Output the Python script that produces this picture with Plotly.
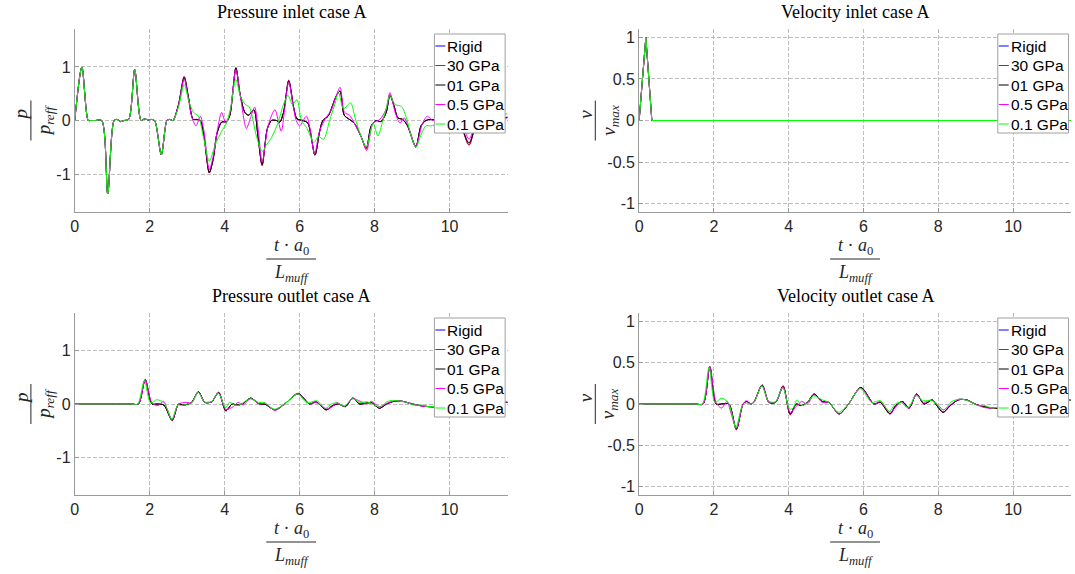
import plotly.graph_objects as go

W, H = 1075, 574

# ---------------- data ----------------
NAMES = ["Rigid", "30 GPa", "01 GPa", "0.5 GPa", "0.1 GPa"]
TITLES = ["Pressure inlet case A", "Velocity inlet case A",
          "Pressure outlet case A", "Velocity outlet case A"]
X_TICKS = [0, 2, 4, 6, 8, 10]
X_TICKTEXT = ["0", "2", "4", "6", "8", "10"]
P_TICKS = [-1, 0, 1]
P_TICKTEXT = ["-1", "0", "1"]
V_TICKS = [-1, -0.5, 0, 0.5, 1]
V_TICKTEXT = ["-1", "-0.5", "0", "0.5", "1"]

# Pressure inlet (t*a0/L, p/pref)
PI_COMMON = [(0.0, 0.0), (0.19, 1.0), (0.36, 0.0), (0.42, 0.0), (0.55, 0.0), (0.72, 0.0),
             (0.88, -1.37), (1.05, 0.0), (1.13, 0.02), (1.22, -0.02), (1.32, 0.0),
             (1.44, 0.02), (1.6, 0.95), (1.77, 0.0), (1.86, 0.03), (1.96, 0.01),
             (2.03, 0.02), (2.13, 0.0), (2.31, -0.64), (2.46, 0.0), (2.53, 0.02), (2.62, 0.0)]
PI_BLACK = PI_COMMON + [
    (2.77, 0.3), (2.92, 0.8), (3.03, 0.45), (3.16, 0.02), (3.25, 0.02), (3.35, 0.0),
    (3.45, -0.3), (3.59, -0.97), (3.7, -0.7), (3.79, -0.26), (3.92, -0.03), (4.05, -0.02),
    (4.14, 0.1), (4.30, 0.99), (4.41, 0.5), (4.54, 0.15), (4.64, 0.1), (4.78, 0.2),
    (4.89, -0.3), (5.0, -0.82), (5.14, -0.15), (5.25, 0.0), (5.38, 0.0), (5.47, -0.03),
    (5.57, 0.15), (5.71, 0.74), (5.84, 0.25), (5.93, 0.03), (6.09, 0.0), (6.22, -0.05),
    (6.41, -0.64), (6.53, -0.22), (6.62, 0.0), (6.76, 0.08), (6.89, 0.3), (6.97, 0.45),
    (7.08, 0.55), (7.19, 0.1), (7.33, 0.02), (7.46, -0.05), (7.64, -0.3), (7.78, -0.51),
    (7.91, -0.1), (8.04, 0.0), (8.17, -0.02), (8.31, 0.15), (8.41, 0.47), (8.53, 0.25),
    (8.62, 0.05), (8.75, 0.02), (8.88, -0.1), (9.10, -0.48), (9.24, -0.1), (9.37, 0.0),
    (9.5, 0.02), (9.7, 0.0), (9.9, 0.05), (10.1, 0.02), (10.3, -0.1), (10.52, -0.42),
    (10.7, -0.1), (10.9, 0.05), (11.1, 0.0), (11.3, 0.04), (11.55, 0.06)]
PI_RED = PI_COMMON + [
    (2.77, 0.3), (2.92, 0.82), (3.03, 0.45), (3.16, 0.02), (3.25, 0.02), (3.35, 0.0),
    (3.45, -0.3), (3.59, -0.98), (3.7, -0.7), (3.79, -0.26), (3.92, -0.03), (4.05, -0.02),
    (4.14, 0.1), (4.30, 0.98), (4.41, 0.5), (4.54, 0.15), (4.64, 0.1), (4.78, 0.2),
    (4.89, -0.3), (5.0, -0.84), (5.14, -0.15), (5.25, 0.0), (5.38, 0.0), (5.47, -0.03),
    (5.57, 0.15), (5.71, 0.75), (5.84, 0.25), (5.93, 0.03), (6.09, 0.0), (6.22, -0.05),
    (6.41, -0.65), (6.53, -0.22), (6.62, 0.0), (6.76, 0.08), (6.89, 0.3), (6.97, 0.45),
    (7.08, 0.55), (7.19, 0.1), (7.33, 0.02), (7.46, -0.05), (7.64, -0.3), (7.78, -0.53),
    (7.91, -0.1), (8.04, 0.0), (8.17, -0.02), (8.31, 0.15), (8.41, 0.48), (8.53, 0.25),
    (8.62, 0.05), (8.75, 0.02), (8.88, -0.1), (9.10, -0.5), (9.24, -0.1), (9.37, 0.0),
    (9.5, 0.02), (9.7, 0.0), (9.9, 0.05), (10.1, 0.02), (10.3, -0.1), (10.52, -0.46),
    (10.7, -0.1), (10.9, 0.05), (11.1, 0.0), (11.3, 0.04), (11.55, 0.06)]
PI_RIGID = PI_RED
PI_MAGENTA = PI_COMMON + [
    (2.77, 0.28), (2.92, 0.78), (3.03, 0.4), (3.13, 0.05), (3.24, -0.1), (3.35, 0.08),
    (3.45, -0.2), (3.59, -0.92), (3.7, -0.65), (3.8, -0.2), (3.92, 0.15), (4.03, -0.05),
    (4.14, 0.15), (4.30, 0.95), (4.42, 0.45), (4.58, -0.15), (4.69, 0.05), (4.80, 0.25),
    (4.9, -0.2), (5.0, -0.78), (5.16, -0.1), (5.34, 0.2), (5.51, -0.2), (5.6, 0.2),
    (5.71, 0.72), (5.82, 0.3), (5.91, 0.0), (6.0, -0.1), (6.18, 0.08), (6.28, -0.15),
    (6.40, -0.63), (6.53, -0.2), (6.71, 0.06), (6.85, 0.2), (6.97, 0.45), (7.08, 0.62),
    (7.2, 0.15), (7.33, 0.1), (7.46, -0.05), (7.64, -0.3), (7.79, -0.56), (7.96, -0.05),
    (8.14, 0.02), (8.3, 0.2), (8.41, 0.52), (8.55, 0.15), (8.68, -0.05), (8.79, 0.05),
    (8.92, -0.15), (9.10, -0.48), (9.28, -0.05), (9.41, 0.08), (9.55, 0.0), (9.75, 0.05),
    (10.0, -0.05), (10.3, -0.05), (10.52, -0.35), (10.7, -0.05), (10.9, 0.08),
    (11.2, 0.0), (11.55, 0.05)]
PI_GREEN = PI_COMMON + [
    (2.77, 0.25), (2.92, 0.67), (3.05, 0.35), (3.17, 0.15), (3.3, 0.08), (3.43, -0.3),
    (3.59, -0.76), (3.75, -0.45), (3.92, -0.2), (4.05, -0.05), (4.15, 0.2), (4.30, 0.77),
    (4.42, 0.45), (4.55, 0.3), (4.66, 0.25), (4.85, -0.3), (5.0, -0.58), (5.12, -0.45),
    (5.25, -0.32), (5.42, -0.05), (5.57, 0.3), (5.69, 0.47), (5.81, 0.3), (5.93, 0.39),
    (6.05, 0.0), (6.2, -0.15), (6.38, -0.41), (6.5, -0.3), (6.64, -0.35), (6.8, 0.0),
    (6.94, 0.3), (7.04, 0.52), (7.17, 0.22), (7.36, 0.33), (7.48, 0.05), (7.64, -0.3),
    (7.78, -0.5), (7.96, -0.05), (8.09, -0.29), (8.22, 0.0), (8.32, 0.25), (8.41, 0.47),
    (8.55, 0.3), (8.72, 0.26), (8.85, 0.05), (8.98, -0.3), (9.1, -0.5), (9.25, -0.25),
    (9.37, -0.1), (9.5, -0.1), (9.75, -0.05), (10.0, 0.05), (10.25, -0.05),
    (10.48, -0.25), (10.7, -0.1), (10.95, 0.05), (11.2, 0.15), (11.55, 0.12)]

# Velocity inlet (all series coincide)
VI_PULSE = [(0.0, 0.0), (0.18, 1.0), (0.34, 0.0), (11.55, 0.0)]

# Pressure outlet
PO_BLACK = [(0.0, 0.0), (1.5, 0.0), (1.7, 0.0), (1.88, 0.46), (2.06, 0.0), (2.2, 0.0),
            (2.38, -0.02), (2.6, -0.3), (2.77, 0.0), (2.9, -0.02), (3.03, 0.0), (3.12, 0.03),
            (3.3, 0.23), (3.47, 0.03), (3.65, 0.04), (3.84, 0.21), (4.03, -0.12), (4.2, 0.0),
            (4.32, -0.02), (4.47, 0.0), (4.69, 0.11), (4.93, 0.0), (5.07, 0.0), (5.34, -0.11),
            (5.6, 0.0), (5.96, 0.2), (6.27, 0.0), (6.44, 0.04), (6.71, -0.11), (6.88, -0.03),
            (7.04, 0.0), (7.22, -0.05), (7.42, 0.11), (7.6, 0.0), (7.8, 0.02), (7.93, 0.02),
            (8.13, -0.08), (8.32, 0.0), (8.52, 0.05), (8.75, 0.05), (9.0, 0.0), (9.22, -0.03),
            (9.46, -0.05), (9.7, -0.05), (10.0, 0.0), (10.4, -0.03), (10.8, 0.0), (11.2, 0.02),
            (11.55, 0.03)]
PO_RED = [(0.0, 0.0), (1.5, 0.0), (1.7, 0.0), (1.88, 0.45), (2.06, 0.0), (2.2, 0.0),
          (2.38, -0.02), (2.6, -0.31), (2.77, 0.0), (2.9, -0.02), (3.03, 0.0), (3.12, 0.03),
          (3.3, 0.23), (3.47, 0.03), (3.65, 0.04), (3.84, 0.22), (4.03, -0.13), (4.2, 0.0),
          (4.32, -0.02), (4.47, 0.0), (4.69, 0.11), (4.93, 0.0), (5.07, 0.0), (5.34, -0.11),
          (5.6, 0.0), (5.96, 0.19), (6.27, 0.0), (6.44, 0.04), (6.71, -0.11), (6.88, -0.03),
          (7.04, 0.0), (7.22, -0.05), (7.42, 0.11), (7.6, 0.0), (7.8, 0.02), (7.93, 0.02),
          (8.13, -0.08), (8.32, 0.0), (8.52, 0.05), (8.75, 0.05), (9.0, 0.0), (9.22, -0.03),
          (9.46, -0.05), (9.7, -0.05), (10.0, 0.0), (10.4, -0.03), (10.8, 0.0), (11.2, 0.02),
          (11.55, 0.03)]
PO_RIGID = PO_RED
PO_MAGENTA = [(0.0, 0.0), (1.5, 0.0), (1.7, 0.0), (1.88, 0.45), (2.06, 0.02), (2.22, -0.03),
              (2.37, 0.05), (2.47, -0.1), (2.6, -0.29), (2.77, 0.0), (2.99, 0.03), (3.12, 0.02),
              (3.3, 0.22), (3.47, 0.03), (3.65, 0.04), (3.84, 0.2), (4.03, -0.1), (4.23, -0.05),
              (4.36, 0.03), (4.49, -0.02), (4.69, 0.1), (4.93, 0.0), (5.07, 0.02), (5.34, -0.12),
              (5.6, 0.0), (5.96, 0.19), (6.27, 0.0), (6.44, 0.03), (6.71, -0.09), (6.88, -0.05),
              (6.98, 0.03), (7.2, -0.04), (7.42, 0.1), (7.62, 0.05), (7.8, 0.0), (7.92, 0.05),
              (8.13, -0.05), (8.35, 0.02), (8.55, 0.06), (8.8, 0.04), (9.05, 0.0), (9.25, -0.04),
              (9.46, -0.05), (9.7, -0.04), (10.0, 0.01), (10.4, -0.03), (10.8, 0.01),
              (11.2, 0.02), (11.55, 0.04)]
PO_GREEN = [(0.0, 0.0), (1.5, 0.0), (1.68, 0.0), (1.86, 0.44), (2.02, 0.02), (2.19, 0.08),
            (2.37, 0.03), (2.47, -0.1), (2.59, -0.29), (2.75, -0.02), (2.85, -0.03), (3.0, 0.0),
            (3.12, 0.02), (3.29, 0.22), (3.46, 0.04), (3.65, 0.05), (3.83, 0.2), (4.03, -0.07),
            (4.13, 0.03), (4.3, -0.03), (4.45, 0.0), (4.67, 0.1), (4.9, 0.03), (5.07, 0.02),
            (5.32, -0.1), (5.6, 0.0), (5.94, 0.19), (6.2, 0.02), (6.46, 0.06), (6.69, -0.08),
            (6.85, 0.0), (7.0, 0.02), (7.2, -0.04), (7.4, 0.1), (7.6, 0.03), (7.8, 0.04),
            (7.95, 0.0), (8.15, -0.06), (8.35, 0.05), (8.6, 0.06), (8.85, 0.03), (9.05, -0.02),
            (9.25, -0.02), (9.46, -0.05), (9.7, -0.03), (10.0, 0.02), (10.4, -0.02),
            (10.8, 0.02), (11.2, 0.03), (11.55, 0.05)]

# Velocity outlet
VO_BLACK = [(0.0, 0.0), (1.5, 0.0), (1.71, 0.0), (1.89, 0.45), (2.06, 0.0), (2.2, 0.0),
            (2.4, 0.0), (2.6, -0.3), (2.78, 0.0), (2.87, 0.03), (3.0, 0.0), (3.08, 0.03),
            (3.29, 0.23), (3.47, 0.02), (3.65, 0.02), (3.85, 0.21), (4.04, -0.12), (4.2, 0.0),
            (4.33, -0.02), (4.5, 0.02), (4.68, 0.12), (4.9, 0.03), (5.07, 0.02), (5.35, -0.12),
            (5.6, 0.0), (5.93, 0.2), (6.28, 0.0), (6.45, 0.02), (6.71, -0.12), (6.86, -0.02),
            (7.04, 0.03), (7.22, -0.05), (7.42, 0.12), (7.62, 0.0), (7.84, 0.05), (7.93, 0.0),
            (8.13, -0.1), (8.32, -0.02), (8.54, 0.05), (8.76, 0.05), (8.98, 0.0), (9.2, -0.03),
            (9.42, -0.05), (9.6, -0.05), (10.0, 0.0), (10.5, -0.03), (11.0, 0.02), (11.55, 0.05)]
VO_RED = [(0.0, 0.0), (1.5, 0.0), (1.71, 0.0), (1.89, 0.45), (2.06, 0.0), (2.2, 0.0),
          (2.4, 0.0), (2.6, -0.31), (2.78, 0.0), (2.87, 0.03), (3.0, 0.0), (3.08, 0.03),
          (3.29, 0.23), (3.47, 0.02), (3.65, 0.02), (3.85, 0.22), (4.04, -0.13), (4.2, 0.0),
          (4.33, -0.02), (4.5, 0.02), (4.68, 0.12), (4.9, 0.03), (5.07, 0.02), (5.35, -0.12),
          (5.6, 0.0), (5.93, 0.2), (6.28, 0.0), (6.45, 0.02), (6.71, -0.12), (6.86, -0.02),
          (7.04, 0.03), (7.22, -0.05), (7.42, 0.12), (7.62, 0.0), (7.84, 0.05), (7.93, 0.0),
          (8.13, -0.1), (8.32, -0.02), (8.54, 0.05), (8.76, 0.05), (8.98, 0.0), (9.2, -0.03),
          (9.42, -0.05), (9.6, -0.05), (10.0, 0.0), (10.5, -0.03), (11.0, 0.02), (11.55, 0.05)]
VO_RIGID = VO_RED
VO_MAGENTA = [(0.0, 0.0), (1.5, 0.0), (1.71, 0.0), (1.89, 0.45), (2.06, 0.02), (2.2, -0.05),
              (2.35, 0.03), (2.45, -0.1), (2.6, -0.29), (2.78, 0.0), (2.87, 0.04), (3.0, 0.0),
              (3.08, 0.03), (3.29, 0.22), (3.47, 0.03), (3.65, 0.02), (3.85, 0.2), (4.04, -0.1),
              (4.2, -0.03), (4.35, 0.03), (4.5, 0.0), (4.68, 0.11), (4.9, 0.02), (5.07, 0.02),
              (5.35, -0.12), (5.6, 0.0), (5.93, 0.19), (6.28, 0.0), (6.45, 0.03), (6.71, -0.1),
              (6.86, -0.04), (7.0, 0.03), (7.2, -0.05), (7.42, 0.11), (7.6, 0.02), (7.82, 0.05),
              (7.95, 0.01), (8.13, -0.07), (8.35, 0.0), (8.56, 0.06), (8.78, 0.04), (9.0, 0.0),
              (9.2, -0.04), (9.42, -0.05), (9.6, -0.04), (10.0, 0.01), (10.5, -0.03),
              (11.0, 0.02), (11.55, 0.05)]
VO_GREEN = [(0.0, 0.0), (1.5, 0.0), (1.69, 0.0), (1.87, 0.44), (2.03, 0.02), (2.2, 0.07),
            (2.38, 0.02), (2.47, -0.1), (2.59, -0.29), (2.76, -0.02), (2.87, 0.01), (3.0, 0.0),
            (3.08, 0.02), (3.28, 0.22), (3.46, 0.03), (3.65, 0.03), (3.84, 0.2), (4.02, -0.06),
            (4.12, -0.05), (4.22, 0.05), (4.35, -0.02), (4.5, 0.02), (4.66, 0.1), (4.9, 0.05),
            (5.07, 0.02), (5.33, -0.1), (5.6, 0.0), (5.91, 0.19), (6.22, 0.02), (6.45, 0.04),
            (6.69, -0.09), (6.85, 0.0), (7.0, 0.02), (7.2, -0.04), (7.4, 0.1), (7.6, 0.04),
            (7.82, 0.04), (7.95, 0.0), (8.15, -0.07), (8.36, 0.03), (8.6, 0.06), (8.85, 0.03),
            (9.05, -0.02), (9.25, -0.02), (9.45, -0.05), (9.65, -0.03), (10.0, 0.02),
            (10.5, -0.02), (11.0, 0.03), (11.55, 0.05)]

# ---------------- styles / geometry ----------------
COLORS = ["#0000ff", "#ff0000", "#000000", "#ff00ff", "#00ff00"]
AX_COLOR = "#9a9a9a"
GRID_COLOR = "#bdbdbd"
TICK_FONT = dict(family="Liberation Sans, Arial, sans-serif", size=16, color="#262626")
SERIF = "Liberation Serif, Times New Roman, serif"

LEFT = (71.0, 505.5)
RIGHT = (637.5, 1071.0)
TOP = (29.0, 212.0)
BOTTOM = (313.0, 495.0)


def PX(px):
    return px / W


def PY(py):
    return 1 - py / H


panels = [
    dict(data=[PI_RIGID, PI_RED, PI_BLACK, PI_MAGENTA, PI_GREEN], xs=LEFT, ys=TOP,
         yr=[-1.71, 1.71], yt=P_TICKS, ytt=P_TICKTEXT, sym="p", sub="reff", spline=True),
    dict(data=[VI_PULSE] * 5, xs=RIGHT, ys=TOP,
         yr=[-1.1, 1.1], yt=V_TICKS, ytt=V_TICKTEXT, sym="v", sub="max", spline=False),
    dict(data=[PO_RIGID, PO_RED, PO_BLACK, PO_MAGENTA, PO_GREEN], xs=LEFT, ys=BOTTOM,
         yr=[-1.7, 1.7], yt=P_TICKS, ytt=P_TICKTEXT, sym="p", sub="reff", spline=True),
    dict(data=[VO_RIGID, VO_RED, VO_BLACK, VO_MAGENTA, VO_GREEN], xs=RIGHT, ys=BOTTOM,
         yr=[-1.1, 1.1], yt=V_TICKS, ytt=V_TICKTEXT, sym="v", sub="max", spline=True),
]

fig = go.Figure()
layout = dict(width=W, height=H, margin=dict(l=0, r=0, t=0, b=0),
              paper_bgcolor="white", plot_bgcolor="white", showlegend=False)
shapes = []
annotations = []

for k, pnl in enumerate(panels):
    n = "" if k == 0 else str(k + 1)
    xa, ya = "x" + n, "y" + n
    x0, x1 = pnl["xs"]
    y0, y1 = pnl["ys"]
    common = dict(showgrid=True, gridcolor=GRID_COLOR, griddash="4px,2px", gridwidth=1,
                  showline=True, linecolor=AX_COLOR, linewidth=1, zeroline=False,
                  ticks="inside", ticklen=4, tickcolor=AX_COLOR, tickfont=TICK_FONT,
                  mirror=False, fixedrange=True)
    layout["xaxis" + n] = dict(domain=[PX(x0), PX(x1)], anchor=ya, range=[0, 11.55],
                               tickvals=X_TICKS, ticktext=X_TICKTEXT, **common)
    layout["yaxis" + n] = dict(domain=[PY(y1), PY(y0)], anchor=xa, range=pnl["yr"],
                               tickvals=pnl["yt"], ticktext=pnl["ytt"], **common)

    for i, series in enumerate(pnl["data"]):
        line = dict(color=COLORS[i], width=1)
        if pnl["spline"]:
            line.update(shape="spline", smoothing=0.8)
        fig.add_trace(go.Scatter(x=[p[0] for p in series], y=[p[1] for p in series],
                                 mode="lines", name=NAMES[i], line=line,
                                 xaxis=xa, yaxis=ya, showlegend=False, hoverinfo="skip"))

    cx = (x0 + x1) / 2
    cy = (y0 + y1) / 2
    # title
    annotations.append(dict(x=PX(cx), y=PY(y0 - 17), xref="paper", yref="paper",
                            text=TITLES[k], showarrow=False, xanchor="center", yanchor="middle",
                            font=dict(family=SERIF, size=18, color="black")))
    # x label fraction
    annotations.append(dict(x=PX(cx), y=PY(y1 + 34), xref="paper", yref="paper",
                            text="<i>t</i> · <i>a</i><sub>0</sub>", showarrow=False,
                            xanchor="center", yanchor="middle",
                            font=dict(family=SERIF, size=18, color="#262626")))
    shapes.append(dict(type="line", xref="paper", yref="paper", x0=PX(cx - 25), x1=PX(cx + 25),
                       y0=PY(y1 + 47), y1=PY(y1 + 47), line=dict(color="#262626", width=1)))
    annotations.append(dict(x=PX(cx), y=PY(y1 + 61), xref="paper", yref="paper",
                            text="<i>L</i><sub><i>muff</i></sub>", showarrow=False,
                            xanchor="center", yanchor="middle",
                            font=dict(family=SERIF, size=18, color="#262626")))
    # y label fraction (rotated)
    annotations.append(dict(x=PX(x0 - 54), y=PY(cy - 6), xref="paper", yref="paper",
                            text="<i>%s</i>" % pnl["sym"], showarrow=False, textangle=-90,
                            xanchor="center", yanchor="middle",
                            font=dict(family=SERIF, size=19, color="#262626")))
    shapes.append(dict(type="line", xref="paper", yref="paper", x0=PX(x0 - 44), x1=PX(x0 - 44),
                       y0=PY(cy - 20), y1=PY(cy + 20), line=dict(color="#262626", width=1)))
    annotations.append(dict(x=PX(x0 - 30), y=PY(cy), xref="paper", yref="paper",
                            text="<i>%s</i><sub><i>%s</i></sub>" % (pnl["sym"], pnl["sub"]),
                            showarrow=False, textangle=-90, xanchor="center", yanchor="middle",
                            font=dict(family=SERIF, size=19, color="#262626")))
    # legend box
    lx0, lx1 = x1 - 73.5, x1 - 2.5
    ly0, ly1 = y0 + 5, y0 + 104
    shapes.append(dict(type="rect", xref="paper", yref="paper", x0=PX(lx0), x1=PX(lx1),
                       y0=PY(ly1), y1=PY(ly0), fillcolor="white",
                       line=dict(color="#a0a0a0", width=1), layer="above"))
    for i, name in enumerate(NAMES):
        ey = ly0 + 12 + 19.5 * i
        shapes.append(dict(type="line", xref="paper", yref="paper", x0=PX(lx0 + 1),
                           x1=PX(lx0 + 11), y0=PY(ey), y1=PY(ey),
                           line=dict(color=COLORS[i], width=1), layer="above"))
        annotations.append(dict(x=PX(lx0 + 11), y=PY(ey), xref="paper", yref="paper",
                                text=name, showarrow=False, xanchor="left", yanchor="middle",
                                font=dict(family="Liberation Sans, Arial, sans-serif",
                                          size=15.5, color="black")))

layout["shapes"] = shapes
layout["annotations"] = annotations
fig.update_layout(**layout)
fig.write_html("out.html")
